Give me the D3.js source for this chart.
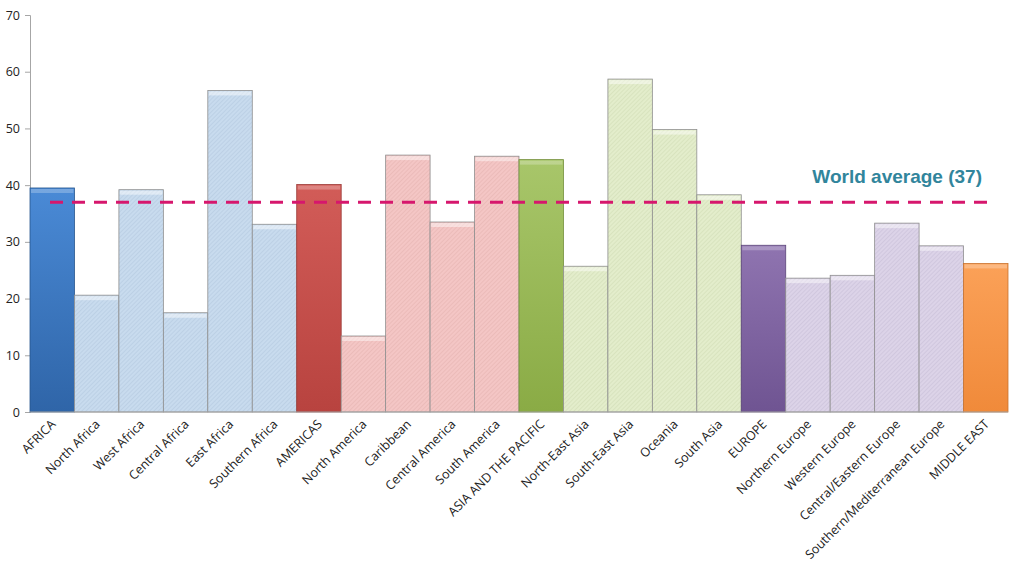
<!DOCTYPE html>
<html><head><meta charset="utf-8">
<script src="https://cdn.jsdelivr.net/npm/d3@7"></script>
<style>body{margin:0;background:#fff}svg{display:block}</style>
</head><body><svg id="c" width="1024" height="583"></svg>
<script>
const categories = ["AFRICA","North Africa","West Africa","Central Africa","East Africa","Southern Africa","AMERICAS","North America","Caribbean","Central America","South America","ASIA AND THE PACIFIC","North-East Asia","South-East Asia","Oceania","South Asia","EUROPE","Northern Europe","Western Europe","Central/Eastern Europe","Southern/Mediterranean Europe","MIDDLE EAST"];
const values = [39.5,20.6,39.2,17.5,56.7,33.1,40.1,13.4,45.3,33.5,45.1,44.5,25.7,58.7,49.8,38.3,29.4,23.6,24.1,33.3,29.3,26.2];
const groups = ["af","af","af","af","af","af","am","am","am","am","am","as","as","as","as","as","eu","eu","eu","eu","eu","me"];
const isRegion = [1,0,0,0,0,0,1,0,0,0,0,1,0,0,0,0,1,0,0,0,0,1];
const yTicks = [0,10,20,30,40,50,60,70];
const worldAverage = 37;
const avgLabel = "World average (37)";

const solid = {af:["#4a8ad6","#2f65a8"],am:["#d25c58","#b8433f"],as:["#a8c66a","#8aab45"],eu:["#8f74b0","#6f5492"],me:["#fba158","#f08a3a"]};
const light = {af:"#c8dbee",am:"#f4c6c5",as:"#e3edcb",eu:"#dcd3e8",me:"#fdd"};
const hatch = {af:"#a9c0d8",am:"#e0a9a8",as:"#c9d6ab",eu:"#bfb4d0",me:"#eaa"};

const svg = d3.select("#c");
const m = {l:30,r:16,t:15,b:171};
const W = 1024, H = 583;
const x = d3.scaleBand().domain(categories).range([m.l, W-m.r]).padding(0);
const y = d3.scaleLinear().domain([0,70]).range([H-m.b, m.t]);

const defs = svg.append("defs");
Object.keys(light).forEach(k=>{
  const p = defs.append("pattern").attr("id","h_"+k).attr("patternUnits","userSpaceOnUse")
    .attr("width",3).attr("height",3).attr("patternTransform","rotate(45)");
  p.append("rect").attr("width",3).attr("height",3).attr("fill",light[k]);
  p.append("line").attr("x1",0).attr("y1",0).attr("x2",0).attr("y2",3).attr("stroke",hatch[k]).attr("stroke-width",0.8);
  const g = defs.append("linearGradient").attr("id","g_"+k).attr("x1",0).attr("x2",0).attr("y1",0).attr("y2",1);
  g.append("stop").attr("offset","0%").attr("stop-color",solid[k][0]);
  g.append("stop").attr("offset","100%").attr("stop-color",solid[k][1]);
});

// axes
const yAxis = svg.append("g").attr("transform",`translate(${m.l},0)`)
  .call(d3.axisLeft(y).tickValues(yTicks).tickSize(5).tickPadding(5));
yAxis.select(".domain").attr("stroke","#a6a6a6");
yAxis.selectAll(".tick line").attr("stroke","#a6a6a6");
yAxis.selectAll("text").attr("font-family","'Open Sans',sans-serif").attr("font-size",12.5).attr("fill","#222");

// bars
const bars = svg.append("g");
categories.forEach((c,i)=>{
  const k = groups[i];
  const bx = x(c), bw = x.bandwidth(), by = y(values[i]), bh = y(0)-y(values[i]);
  bars.append("rect").attr("x",bx).attr("y",by).attr("width",bw).attr("height",bh)
    .attr("fill", isRegion[i] ? `url(#g_${k})` : `url(#h_${k})`)
    .attr("stroke", isRegion[i] ? d3.color(solid[k][1]).darker(0.5) : "#8f8f8f")
    .attr("stroke-width",0.8);
  // bevel top
  bars.append("rect").attr("x",bx+1).attr("y",by+1).attr("width",bw-2).attr("height",4)
    .attr("fill","#fff").attr("opacity", isRegion[i]?0.25:0.45);
});

// x axis line
svg.append("line").attr("x1",m.l).attr("x2",W-m.r).attr("y1",y(0)).attr("y2",y(0)).attr("stroke","#a6a6a6").attr("stroke-width",1.2);

// x labels
svg.append("g").selectAll("text").data(categories).join("text")
  .attr("transform",d=>`translate(${x(d)+x.bandwidth()/2+4},${y(0)+13}) rotate(-45)`)
  .attr("text-anchor","end").attr("font-family","'Open Sans',sans-serif").attr("font-size",12.5).attr("fill","#222")
  .text(d=>d);

// average line
svg.append("line").attr("x1",50).attr("x2",988).attr("y1",y(worldAverage)).attr("y2",y(worldAverage))
  .attr("stroke","#d6176d").attr("stroke-width",3).attr("stroke-dasharray","13,9");
svg.append("text").attr("x",982).attr("y",y(worldAverage)-19).attr("text-anchor","end")
  .attr("font-family","'Liberation Sans Narrow','Arial Narrow',sans-serif").attr("font-weight","bold")
  .attr("font-size",19).attr("fill","#31859c").text(avgLabel);
</script></body></html>
